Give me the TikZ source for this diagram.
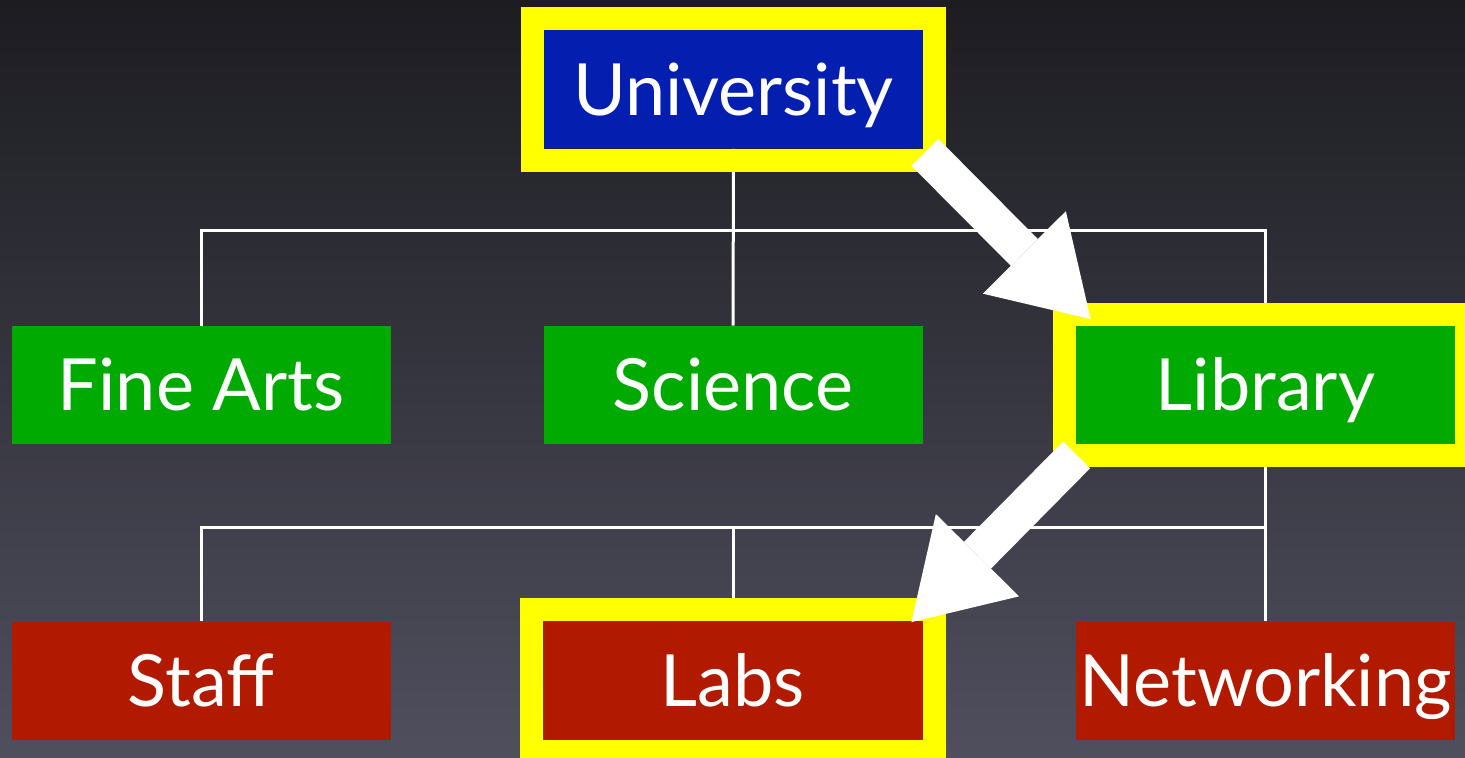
\documentclass[tikz,border=0pt]{standalone}
\usepackage{fontspec}
\setmainfont{Lato}
\usetikzlibrary{arrows.meta,calc}
\definecolor{bgtop}{RGB}{28,28,33}
\definecolor{bgbot}{RGB}{80,79,94}
\definecolor{unitblue}{RGB}{4,30,176}
\definecolor{deptgreen}{RGB}{0,170,0}
\definecolor{teamred}{RGB}{178,26,0}
\definecolor{hilite}{RGB}{255,255,0}
\begin{document}
\begin{tikzpicture}[x=0.5pt,y=-0.5pt,
  box/.style={minimum width=189.5pt, minimum height=59pt, inner sep=0pt,
    text=white, font=\fontsize{36}{36}\selectfont,
    text height=25.8pt, text depth=0pt},
  link/.style={draw=white, line width=1.5pt},
  frame/.style={draw=hilite, line width=11.5pt},
  pointer/.style={draw=white, line width=19pt,
    -{Triangle[length=47pt,width=58.5pt,line width=0pt]}}]
\useasboundingbox (0,0) rectangle (1465,758);
\shade[top color=bgtop, bottom color=bgbot] (0,0) rectangle (1465,758);

% organisation chart
\node[box, fill=unitblue]  (u)     at (733.5,89.5)  {University};
\node[box, fill=deptgreen] (fa)    at (201,385)     {Fine Arts};
\node[box, fill=deptgreen] (sci)   at (733,385)     {Science};
\node[box, fill=deptgreen] (lib)   at (1265.5,385)  {Library};
\node[box, fill=teamred]   (staff) at (201,680.5)   {Staff};
\node[box, fill=teamred]   (labs)  at (733,680.5)   {Labs};
\node[box, fill=teamred]   (net)   at (1265.5,680.5){Networking};

% tree connectors
\coordinate (bus1) at (733,231);
\coordinate (bus2) at (733,527);
\draw[link] (fa.north) |- (bus1) -| (lib.north);
\draw[link] (u.south) -- (sci.north);
\draw[link] (staff.north) |- (bus2) -| (net.north);
\draw[link] (lib.south) -- (net.north);
\draw[link] (bus2) -- (labs.north);

% highlighted path
\foreach \n in {u,lib,labs}
  \draw[frame] ($(\n.north west)+(-11.5,-11.5)$) rectangle ($(\n.south east)+(11.5,11.5)$);

\draw[pointer] ($(u.south east)+(1.5,3.5)$) -- ($(lib.north west)+(15,-6.5)$);
\draw[pointer] ($(lib.south west)+(1,10.5)$) -- ($(labs.north east)+(-11.5,1)$);
\end{tikzpicture}
\end{document}
